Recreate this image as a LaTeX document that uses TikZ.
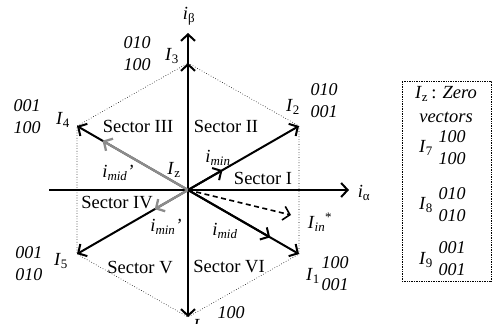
\documentclass[tikz,border=0pt]{standalone}
\usepackage{fontspec}
\setmainfont{Liberation Serif}
\usetikzlibrary{arrows.meta,calc}
\newcommand{\Iv}[1]{\textit{I}\textsubscript{#1}}
\begin{document}
\begin{tikzpicture}[x=1pt,y=-1pt,
  txt/.style={font=\fontsize{18.5}{22}\selectfont, inner sep=0pt, align=center},
  dig/.style={font=\fontsize{18}{22}\selectfont\itshape, inner sep=0pt, align=center},
  tip/.style={-{Straight Barb[length=6.5pt,width=14pt]}},
  vec/.style={line width=2pt, tip},
  grayvec/.style={line width=2.3pt, draw=black!45, tip},
  dashvec/.style={line width=1.6pt, dash pattern=on 5pt off 3.5pt, tip},
  hexline/.style={line width=0.6pt, dotted},
  legendbox/.style={draw, line width=0.7pt, densely dotted, minimum width=89pt, minimum height=200pt, inner sep=0pt}
]
\useasboundingbox (0,0) rectangle (493,324);
% points
\coordinate (O) at (188,190);
\coordinate (I1) at (299,254);
\coordinate (I2) at (299,126);
\coordinate (I3) at (188,63);
\coordinate (I4) at (77,126);
\coordinate (I5) at (77,254);
\coordinate (I6) at (188,317);
\coordinate (ytop) at (188,33);
\coordinate (xl) at (49,190);
\coordinate (xr) at (349,190);
\coordinate (Iin) at (291,215);
% hexagon
\draw[hexline] (I1) -- (I2) -- (I3) -- (I4) -- (I5) -- (I6) -- cycle;
% axes
\draw[vec] (xl) -- (xr);
\draw[vec] (O) -- (ytop);
\draw[vec] (O) -- (I3);
\draw[vec] (O) -- (I6);
% vectors
\draw[vec] (O) -- (I1);
\draw[vec] (O) -- ($(O)!0.74!(I1)$);
\draw[vec] (O) -- (I2);
\draw[vec] (O) -- ($(O)!0.31!(I2)$);
\draw[vec] (O) -- (I4);
\draw[vec] (O) -- (I5);
\draw[grayvec] (O) -- ($(O)!0.77!(I4)$);
\draw[grayvec] (O) -- ($(O)!0.30!(I5)$);
\draw[dashvec] (O) -- (Iin);
% axis labels
\node[txt] (lbeta) at (189,16) {\textit{i}\textsubscript{β}};
\node[txt] (lalpha) at (364,193) {\textit{i}\textsubscript{α}};
% vertex labels
\node[txt] (l3) at (172,56) {\Iv{3}};
\node[dig] (d3) at (137,54) {010\\100};
\node[txt] (l4) at (63,120) {\Iv{4}};
\node[dig] (d4) at (27,117) {001\\100};
\node[txt] (l2) at (293,107) {\Iv{2}};
\node[dig] (d2) at (324,101) {010\\001};
\node[txt] (l5) at (61,261) {\Iv{5}};
\node[dig] (d5) at (29,264) {001\\010};
\node[txt] (l1) at (313,276) {\Iv{1}};
\node[dig] (d1) at (335,274) {100\\001};
\node[dig] (d6) at (231,313) {100};
\node[txt, anchor=north west] (l6) at (193,319) {\Iv{6}};
% sectors
\node[txt] (s1) at (263,178) {Sector I};
\node[txt] (s2) at (226,126) {Sector II};
\node[txt] (s3) at (138,126) {Sector III};
\node[txt] (s4) at (117,203) {Sector IV};
\node[txt] (s5) at (140,268) {Sector V};
\node[txt] (s6) at (229,267) {Sector VI};
% vector labels
\node[txt] (lmin) at (218,158) {\textit{i}\textsubscript{\textit{min}}};
\node[txt] (lz) at (174,170) {\Iv{z}};
\node[txt] (lmidp) at (118,173) {\textit{i}\textsubscript{\textit{mid}}\textit{'}};
\node[txt] (lminp) at (166,227) {\textit{i}\textsubscript{\textit{min}}\textit{'}};
\node[txt] (lmid) at (225,231) {\textit{i}\textsubscript{\textit{mid}}};
\node[txt] (lin) at (320,222) {\textit{I}\textsubscript{\textit{in}}\raisebox{1.5pt}{\textsuperscript{*}}};
% legend
\node[legendbox] (legend) at (446.5,181) {};
\node[txt] (lzero) at (446,94) {\Iv{z}\,: \textit{Zero}};
\node[txt] (lvec) at (446,117) {\textit{vectors}};
\node[txt] (l7) at (426,148) {\Iv{7}};
\node[dig] (d7) at (452,148) {100\\100};
\node[txt] (l8) at (426,205) {\Iv{8}};
\node[dig] (d8) at (452,205) {010\\010};
\node[txt] (l9) at (426,260) {\Iv{9}};
\node[dig] (d9) at (452,259) {001\\001};
\end{tikzpicture}
\end{document}
